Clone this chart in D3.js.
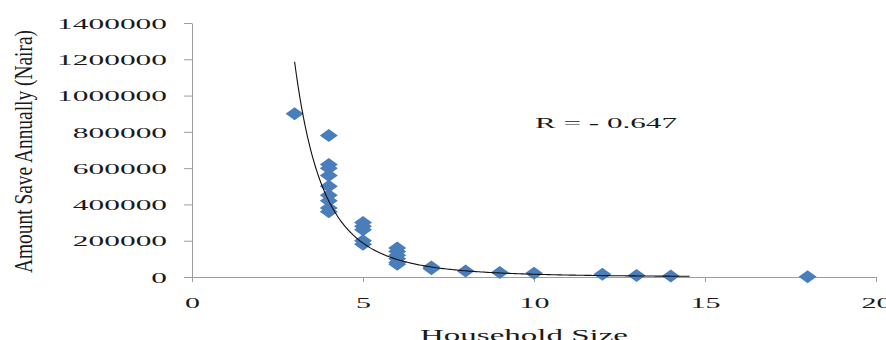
<!DOCTYPE html>
<html>
<head>
<meta charset="utf-8">
<script src="https://cdn.jsdelivr.net/npm/d3@7"></script>
<style>
  body { margin: 0; background: #fff; }
  text { font-family: "Liberation Serif", "Times New Roman", serif; fill: #1a1a1a; }
</style>
</head>
<body>
<div id="chart"></div>
<script>
// household size of each respondent
var householdSize = [3, 4, 4, 4, 4, 4, 4, 4, 4, 4,
                     5, 5, 5, 5, 5,
                     6, 6, 6, 6, 6, 6,
                     7, 7, 8, 9, 10, 12, 13, 14, 18];
// amount saved annually (Naira)
var amountSaved = [900000, 780000, 620000, 600000, 560000, 500000, 450000, 420000, 380000, 360000,
                   300000, 280000, 260000, 200000, 180000,
                   160000, 140000, 120000, 100000, 80000, 70000,
                   55000, 45000, 33000, 25000, 20000, 15000, 8000, 5000, 2000];

var xTicks = [0, 5, 10, 15, 20];
var yTicks = [0, 200000, 400000, 600000, 800000, 1000000, 1200000, 1400000];

// power trendline y = a * x^b, drawn from x=3 to 14.55
var trendA = 63300000, trendB = -3.62;
var trendFrom = 3, trendTo = 14.55;

var width = 886, height = 340;

var svg = d3.select("#chart").append("svg")
    .attr("width", width)
    .attr("height", height);

var x = d3.scaleLinear().domain([0, 20]).range([192, 876]);
var y = d3.scaleLinear().domain([0, 1400000]).range([277, 23]);

var axisColor = "#9c9c9c";

// y axis
var gy = svg.append("g")
    .attr("transform", "translate(192,0)")
    .call(d3.axisLeft(y).tickValues(yTicks).tickSize(8).tickPadding(17).tickSizeOuter(0)
        .tickFormat(function(d) { return String(d); }));
gy.select(".domain").attr("stroke", axisColor);
gy.selectAll(".tick line").attr("stroke", axisColor);
gy.selectAll(".tick text")
    .attr("font-size", 15)
    .attr("font-family", "Liberation Serif")
    .attr("fill", "#1a1a1a")
    .attr("dy", "0.35em")
    .attr("textLength", function(d) { return String(d).length * 15.7; })
    .attr("lengthAdjust", "spacingAndGlyphs");

// x axis
var gx = svg.append("g")
    .attr("transform", "translate(0,277)")
    .call(d3.axisBottom(x).tickValues(xTicks).tickSize(5).tickSizeOuter(0)
        .tickFormat(function(d) { return String(d); }));
gx.select(".domain").attr("stroke", axisColor);
gx.selectAll(".tick line").attr("stroke", axisColor);
gx.selectAll(".tick text")
    .attr("font-size", 15)
    .attr("font-family", "Liberation Serif")
    .attr("fill", "#1a1a1a")
    .attr("y", 31)
    .attr("dy", 0)
    .attr("textLength", function(d) { return String(d).length * 15; })
    .attr("lengthAdjust", "spacingAndGlyphs");

// points
var points = householdSize.map(function(h, i) { return {x: h, y: amountSaved[i]}; });

svg.append("g").selectAll("path")
    .data(points)
    .enter().append("path")
    .attr("d", "M-9,0L0,-6.5L9,0L0,6.5Z")
    .attr("transform", function(d) { return "translate(" + x(d.x) + "," + y(d.y) + ")"; })
    .attr("fill", "#4a7ebb");

// trendline
var trendX = d3.range(trendFrom, trendTo + 0.001, 0.05);
var line = d3.line()
    .x(function(d) { return x(d); })
    .y(function(d) { return y(trendA * Math.pow(d, trendB)); })
    .curve(d3.curveMonotoneX);
svg.append("path")
    .datum(trendX)
    .attr("d", line)
    .attr("fill", "none")
    .attr("stroke", "#111")
    .attr("stroke-width", 1.1);

// R label
svg.append("text")
    .attr("x", 535).attr("y", 128)
    .attr("font-size", 15)
    .attr("textLength", 142)
    .attr("lengthAdjust", "spacingAndGlyphs")
    .text("R = - 0.647");

// axis titles
svg.append("text")
    .attr("x", 420).attr("y", 341)
    .attr("font-size", 16)
    .attr("textLength", 208)
    .attr("lengthAdjust", "spacingAndGlyphs")
    .text("Household Size");

svg.append("text")
    .attr("transform", "translate(32,273) rotate(-90)")
    .attr("font-size", 25)
    .attr("textLength", 243)
    .attr("lengthAdjust", "spacingAndGlyphs")
    .text("Amount Save Annually (Naira)");
</script>
</body>
</html>
